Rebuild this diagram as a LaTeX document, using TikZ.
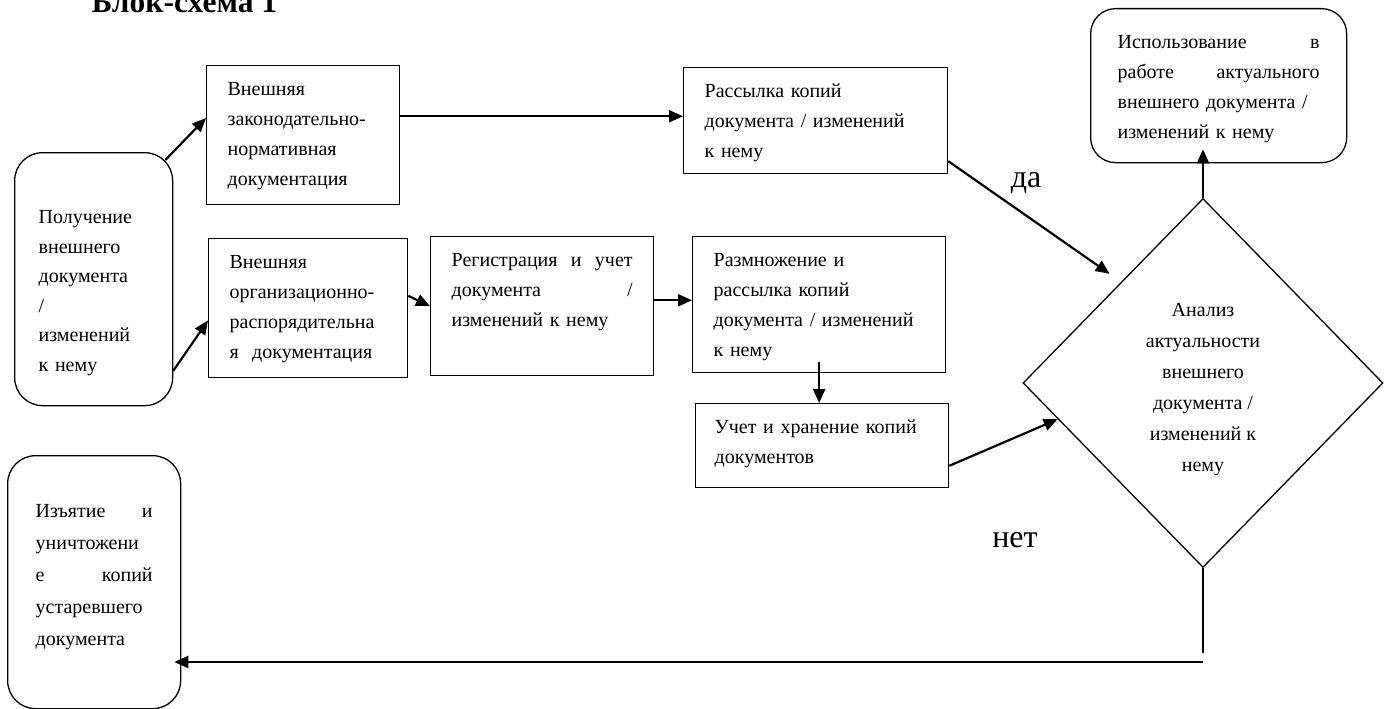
\documentclass[tikz,border=0pt]{standalone}
\usepackage{fontspec}
\setmainfont{Liberation Serif}
\usetikzlibrary{arrows.meta,shapes.geometric,calc}

\begin{document}
\begin{tikzpicture}[x=1pt, y=-1pt]
    \tikzset{box/.style={draw, line width=1.3pt, anchor=north west, inner xsep=21pt, inner ysep=9pt,
                 text height=21pt, align=left, font=\fontsize{20}{30}\selectfont},
             term/.style={box, rounded corners=28pt},
             boxsize/.style 2 args={text width=#1pt, text depth=#2pt},
             arr/.style={line width=2.2pt, -{Triangle[length=14pt, width=12pt]}},
             answer/.style={font=\fontsize{32}{36}\selectfont, inner sep=0pt}}
    \useasboundingbox (0, 0) rectangle (1392, 709);
    \node [anchor=base west, font=\fontsize{31.5}{34}\selectfont\bfseries] (title) at (88, 13) {Блок-схема 1};
    % left column
    \node [term, inner xsep=24pt, inner ysep=50pt, boxsize={110}{132}, font=\fontsize{20}{29.5}\selectfont] (get) at (14, 152)
        {Получение\\внешнего\\документа\\/\\изменений\\к нему};
    \node [term, inner xsep=28pt, inner ysep=41pt, boxsize={117}{150}, font=\fontsize{20}{32}\selectfont] (remove) at (7, 455)
        {Изъятие\hfill и\\уничтожени\\е\hfill копий\\устаревшего\\документа};
    % documents
    \node [box, boxsize={151}{100}] (lawdoc) at (206, 65) {Внешняя\\законодательно-\\нормативная\\документация};
    \node [box, boxsize={157}{100}] (orgdoc) at (208, 238) {Внешняя\\организационно-\\распорядительна\\я\ \ документация};
    \node [box, boxsize={181}{100}] (reg) at (430, 236) {Регистрация\hfill и\hfill учет\\документа\hfill /\\изменений к нему};
    \node [box, boxsize={222}{67}] (send) at (683, 67) {Рассылка копий\\документа / изменений\\к нему};
    \node [box, boxsize={211}{97}] (copies) at (692, 236) {Размножение и\\рассылка копий\\документа / изменений\\к нему};
    \node [box, inner xsep=19pt, boxsize={215}{45}] (store) at (695, 403) {Учет и хранение копий\\документов};
    % decision and use
    \node [draw, diamond, line width=1.3pt, minimum width=360pt, minimum height=369pt, inner sep=0pt,
           align=center, font=\fontsize{20}{31}\selectfont] (anal) at (1203, 383)
        {\rule{0pt}{27pt}Анализ\\актуальности\\внешнего\\документа /\\изменений к\\нему};
    \node [term, rounded corners=25pt, inner xsep=27pt, inner ysep=19pt, boxsize={202}{95}] (use) at (1090, 8)
        {Использование\hfill в\\работе\hfill актуального\\внешнего документа /\\изменений к нему};
    \coordinate (turn) at (1203, 653);
    \coordinate (back) at (1203, 662);
    % connectors
    \draw[arr] ($(get.north east)+(-8, 8)$) -- (lawdoc.170);
    \draw[arr] (get.-49) -- (orgdoc.187);
    \draw[arr] (lawdoc.11) -- (lawdoc.11 -| send.west);
    \draw[arr] (orgdoc.7) -- (reg.west);
    \draw[arr] (reg.3) -- (reg.3 -| copies.west);
    \draw[arr] ([yshift=11pt]copies.south) -- (copies.south |- store.north);
    \draw[arr, shorten >=14pt] (send.-17) -- (anal.129) node [answer, pos=0.45, above=21pt] (yes) {да};
    \draw[arr] (store.-9) -- (anal.194);
    \draw[arr, shorten >=-14pt] (anal.north) -- (anal.north |- use.south);
    \draw[line width=1.5pt] (anal.south) -- (turn);
    \draw[arr, shorten >=-7pt] (back) -- (back -| remove.east);
    \node [answer] (no) at (1015, 540) {нет};
\end{tikzpicture}
\end{document}
